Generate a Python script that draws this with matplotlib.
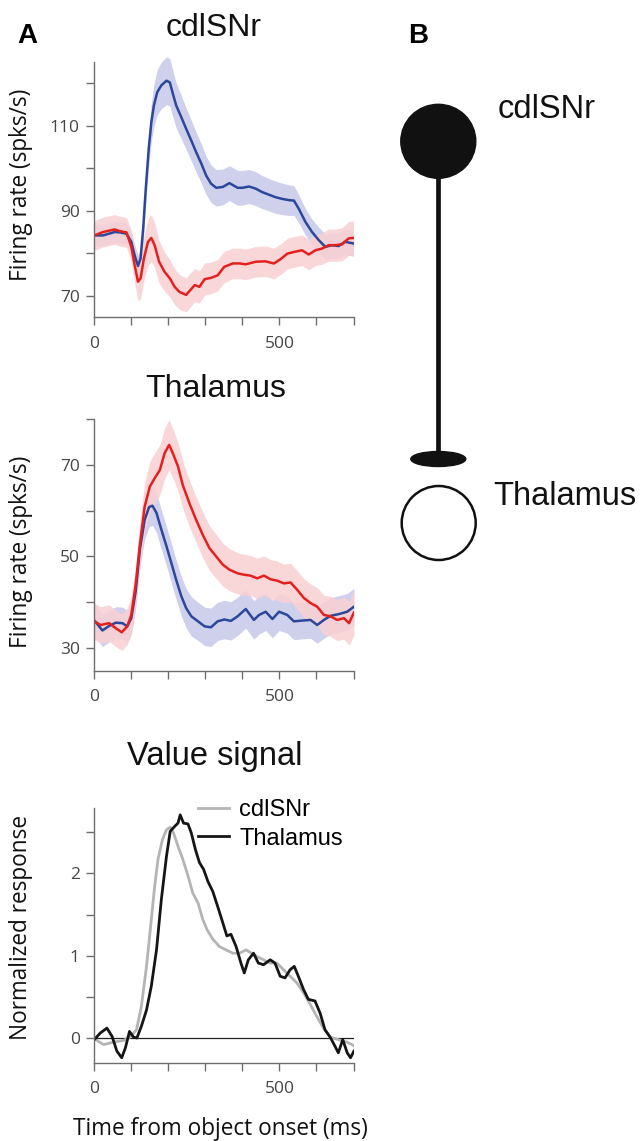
import matplotlib
matplotlib.use("Agg")
import matplotlib.pyplot as plt
from matplotlib.patches import Ellipse
import numpy as np

# ---------------- data ----------------
# Panel A top: cdlSNr firing rate (spks/s)
snr_blue_t = [0,24,55,69,87,100,109,118,125,132,139,147,154,161,170,181,195,204,211,221,235,248,262,275,289,302,315,329,347,365,387,
              400,418,436,453,471,489,507,525,539,552,570,588,606,624,642,660,677,700]
snr_blue = [84.2,84.2,85.0,84.9,84.6,82.7,79.5,77.0,78.8,85.8,95.2,104.6,110.8,114.8,117.9,119.5,120.6,120.2,117.9,114.8,112.0,109.3,106.5,103.8,101.1,98.3,96.4,95.4,95.6,96.5,95.4,
            95.4,95.7,95.2,94.4,93.8,93.2,92.8,92.5,92.4,90.5,87.4,85.0,83.1,81.5,81.9,81.7,82.7,82.3]
snr_blue_sem = [2.5,2.5,2.5,2.5,2.5,2.5,2.5,2.5,2.5,3,3.5,4,4.5,5,5.3,5.5,5.6,5.6,5.5,5.3,5.1,4.9,4.8,4.7,4.6,4.5,4.4,4.3,4.2,4.1,4.1,
                4.1,4.0,4.0,3.9,3.8,3.8,3.7,3.6,3.5,3.3,3.1,3.0,3.0,3.0,3.0,3.0,3.0,3.0]

snr_red_t = [0,24,55,69,87,100,109,118,125,134,145,154,163,175,190,204,217,230,248,259,271,284,298,315,333,351,374,392,
             409,436,462,485,503,521,539,561,579,597,615,633,651,669,687,700]
snr_red = [84.2,85.0,85.6,85.2,84.9,81.5,77.2,73.3,74.1,78.8,82.7,83.6,81.9,78.0,75.6,74.1,72.1,70.9,70.2,71.3,72.5,72.1,73.9,74.2,74.8,76.8,77.6,77.6,
           77.4,78.0,78.1,77.6,78.6,79.9,80.3,80.7,79.7,80.7,81.1,81.9,81.9,82.1,83.5,83.6]
snr_red_sem = [3.5,3.5,3.5,3.5,3.5,3.8,4.2,4.5,4.8,5.2,5.5,5.5,5.3,5,4.6,4.4,4.2,4.1,4,4,3.9,3.8,3.8,3.7,3.7,3.7,3.6,3.6,
               3.6,3.6,3.6,3.6,3.6,3.6,3.6,3.6,3.6,3.6,3.7,3.8,3.8,3.9,4,4]

# Panel A middle: Thalamus firing rate (spks/s)
thal_red_t = [0,17,40,58,74,89,100,112,123,136,150,163,177,190,202,212,226,239,257,275,293,311,329,347,365,387,
              404,422,440,458,476,494,512,530,548,566,584,602,620,638,656,674,688,701]
thal_red = [35.8,35.0,35.4,34.3,33.4,34.7,37.2,44.0,52.5,60.9,65.3,67.1,68.9,72.6,74.4,72.6,69.7,65.6,61.6,58.0,54.7,51.8,50.0,48.2,47.1,46.3,
            46.0,45.8,45.2,45.8,45.0,44.7,44.1,44.3,42.7,40.9,39.8,39.0,37.2,36.9,36.1,36.5,35.4,37.7]
thal_red_sem = [4,4,4,4,4,4,4.2,4.5,5,5.3,5.5,5.5,5.5,5.5,5.5,5.4,5.3,5.2,5.1,5,5,4.9,4.8,4.7,4.6,4.5,
                4.5,4.4,4.4,4.3,4.3,4.3,4.2,4.2,4.2,4.2,4.2,4.2,4.3,4.4,4.5,4.6,4.8,5]

thal_blue_t = [0,22,40,58,76,89,100,112,123,136,148,157,168,181,195,208,221,235,248,262,280,298,315,333,351,369,387,
               409,431,445,463,481,499,521,539,566,584,602,620,638,661,683,701]
thal_blue = [36.0,33.8,34.8,35.5,35.4,34.7,36.5,42.5,51.5,58.0,60.8,61.1,59.5,55.9,52.2,48.6,44.9,41.3,38.7,36.9,35.8,34.7,34.5,35.8,36.2,35.9,36.9,
             38.5,36.1,37.2,37.9,36.3,37.9,37.2,35.8,36.0,36.1,35.0,36.1,37.0,37.4,37.9,39.0]
thal_blue_sem = [3.5,3.5,3.5,3.5,3.5,3.5,3.6,3.8,4.0,4.2,4.3,4.3,4.3,4.3,4.3,4.3,4.3,4.3,4.3,4.3,4.2,4.2,4.2,4.2,4.2,4.2,4.2,
                 4.2,4.2,4.2,4.1,4.1,4.1,4.0,4.0,4.0,4.0,4.0,4.0,4.0,4.0,4.0,4.0]

# Panel A bottom: value signal (normalized response)
val_snr_t = [0,25,52,79,96,114,127,141,154,163,172,184,195,205,214,226,239,253,266,280,293,304,320,338,356,374,392,410,
             439,457,475,493,511,529,547,565,583,601,619,637,659,682,700]
val_snr = [-0.01,-0.08,-0.05,-0.03,0.01,0.10,0.38,0.87,1.44,1.84,2.17,2.41,2.53,2.56,2.49,2.33,2.17,1.97,1.76,1.64,1.44,1.32,1.20,1.11,1.07,1.03,1.03,1.07,
           0.99,0.95,0.91,0.91,0.83,0.75,0.67,0.55,0.41,0.26,0.12,0.01,-0.02,-0.05,-0.09]

val_thal_t = [0,16,34,48,61,74,84,95,106,115,127,141,154,168,181,195,205,217,226,232,241,253,262,273,284,295,307,320,333,347,
              358,369,383,396,405,416,430,443,457,475,488,502,515,529,540,551,565,578,596,610,623,637,650,659,671,683,692,701]
val_thal = [-0.02,0.06,0.12,0.02,-0.16,-0.24,-0.12,0.08,0.01,0.0,0.14,0.34,0.63,1.07,1.68,2.21,2.51,2.57,2.61,2.71,2.61,2.60,2.49,2.29,2.13,2.05,1.90,1.78,1.60,1.40,
            1.24,1.26,1.11,0.91,0.79,0.95,1.03,0.91,0.89,0.95,0.91,0.75,0.73,0.83,0.87,0.75,0.59,0.47,0.45,0.30,0.10,0.01,-0.10,-0.18,-0.02,-0.18,-0.24,-0.16]

titles = ["cdlSNr", "Thalamus", "Value signal"]
legend_labels = ["cdlSNr", "Thalamus"]
xticks = [0, 100, 200, 300, 400, 500, 600, 700]
xticklabels = ["0", "", "", "", "", "500", "", ""]

# ---------------- style ----------------
W, H = 643, 1141
DPI = 100
BLUE = "#2b479c"
RED = "#e4201f"
BLUE_BAND = "#cfd0ec"
RED_BAND = "#f9d0d2"
GRAY = "#b4b4b4"
BLACK = "#151515"
AXC = "#6e6e6e"
TICKC = "#454545"
TICKFONT = "Open Sans"
LABELFONT = "Open Sans"
TITLEFONT = "Liberation Sans"
LABELSIZE = 16.3

fig = plt.figure(figsize=(W / DPI, H / DPI), dpi=DPI)


def px_axes(left, top, right, bottom):
    return fig.add_axes([left / W, 1 - bottom / H, (right - left) / W, (bottom - top) / H])


def style(ax, ylim, yticks, ylabels):
    ax.set_xlim(0, 700)
    ax.set_ylim(*ylim)
    for s in ["top", "right"]:
        ax.spines[s].set_visible(False)
    for s in ["left", "bottom"]:
        ax.spines[s].set_color(AXC)
        ax.spines[s].set_linewidth(1.0)
    ax.set_xticks(xticks)
    ax.set_xticklabels(xticklabels)
    ax.set_yticks(yticks)
    ax.set_yticklabels(ylabels)
    ax.tick_params(axis="both", direction="out", length=5.5, width=1.0, color=AXC,
                   labelcolor=TICKC, labelsize=12.5)
    ax.tick_params(axis="x", pad=8)
    ax.tick_params(axis="y", pad=5)
    for lab in ax.get_xticklabels() + ax.get_yticklabels():
        lab.set_fontfamily(TICKFONT)


def band(ax, t, m, s, color, alpha=1.0):
    m = np.asarray(m)
    s = np.asarray(s)
    ax.fill_between(t, m - s, m + s, color=color, lw=0, alpha=alpha, clip_on=False)


# ---- top: cdlSNr ----
ax1 = px_axes(94.3, 62, 353.5, 317)
band(ax1, snr_blue_t, snr_blue, snr_blue_sem, BLUE_BAND)
band(ax1, snr_red_t, snr_red, snr_red_sem, RED_BAND, 0.85)
ax1.plot(snr_blue_t, snr_blue, color=BLUE, lw=1.8, solid_joinstyle="round")
ax1.plot(snr_red_t, snr_red, color=RED, lw=1.8, solid_joinstyle="round")
style(ax1, (65, 125), [70, 80, 90, 100, 110, 120], ["70", "", "90", "", "110", ""])
ax1.set_ylabel("Firing rate (spks/s)", fontsize=LABELSIZE, fontfamily=LABELFONT, color="#111111")
ax1.yaxis.set_label_coords(-0.236, 0.52)

# ---- middle: Thalamus ----
ax2 = px_axes(94.3, 419.3, 353.5, 670.7)
band(ax2, thal_blue_t, thal_blue, thal_blue_sem, BLUE_BAND)
band(ax2, thal_red_t, thal_red, thal_red_sem, RED_BAND, 0.85)
ax2.plot(thal_blue_t, thal_blue, color=BLUE, lw=1.8, solid_joinstyle="round")
ax2.plot(thal_red_t, thal_red, color=RED, lw=1.8, solid_joinstyle="round")
style(ax2, (25, 80), [30, 40, 50, 60, 70, 80], ["30", "", "50", "", "70", ""])
ax2.set_ylabel("Firing rate (spks/s)", fontsize=LABELSIZE, fontfamily=LABELFONT, color="#111111")
ax2.yaxis.set_label_coords(-0.236, 0.472)

# ---- bottom: Value signal ----
ax3 = px_axes(94.3, 808.3, 353.5, 1062.7)
ax3.axhline(0, color="#222222", lw=0.9)
ax3.plot(val_snr_t, val_snr, color=GRAY, lw=2.0, label=legend_labels[0], solid_joinstyle="round")
ax3.plot(val_thal_t, val_thal, color=BLACK, lw=2.0, label=legend_labels[1], solid_joinstyle="round")
style(ax3, (-0.3, 2.79), [0, 0.5, 1, 1.5, 2, 2.5], ["0", "", "1", "", "2", ""])
ax3.set_ylabel("Normalized response", fontsize=LABELSIZE, fontfamily=LABELFONT, color="#111111")
ax3.yaxis.set_label_coords(-0.236, 0.53)
ax3.set_xlabel("Time from object onset (ms)", fontsize=LABELSIZE, fontfamily=LABELFONT, color="#111111")
ax3.xaxis.set_label_coords(0.487, -0.215)
leg = ax3.legend(loc="upper left", bbox_to_anchor=(0.40, 1.036), frameon=False,
                 prop={"family": TITLEFONT, "size": 17}, handlelength=1.3,
                 handletextpad=0.45, labelspacing=0.28, borderpad=0, borderaxespad=0)

# ---- titles ----
fig.text(214 / W, 1 - 36 / H, titles[0], ha="center", va="baseline", fontsize=23, fontfamily=TITLEFONT, color="#111111")
fig.text(216 / W, 1 - 397 / H, titles[1], ha="center", va="baseline", fontsize=23, fontfamily=TITLEFONT, color="#111111")
fig.text(215 / W, 1 - 765 / H, titles[2], ha="center", va="baseline", fontsize=23.5, fontfamily=TITLEFONT, color="#111111")

# ---- panel letters ----
fig.text(17 / W, 1 - 43 / H, "A", ha="left", va="baseline", fontsize=20, fontweight="bold", fontfamily=TITLEFONT)
fig.text(408 / W, 1 - 43 / H, "B", ha="left", va="baseline", fontsize=20, fontweight="bold", fontfamily=TITLEFONT)

# ---- panel B schematic ----
axb = fig.add_axes([0, 0, 1, 1], zorder=-1)
axb.set_xlim(0, W)
axb.set_ylim(H, 0)
axb.axis("off")
axb.add_patch(Ellipse((438.3, 141.3), 75, 74, color="#111111"))
axb.plot([438.3, 438.3], [170, 455], color="#111111", lw=3.4, solid_capstyle="butt")
axb.add_patch(Ellipse((438.3, 459), 55, 15, color="#111111"))
axb.add_patch(Ellipse((438.7, 523), 74, 74, facecolor="white", edgecolor="#111111", lw=1.8))
axb.text(498, 118.3, "cdlSNr", ha="left", va="baseline", fontsize=23.5, fontfamily=TITLEFONT, color="#111111")
axb.text(493, 505, "Thalamus", ha="left", va="baseline", fontsize=23.5, fontfamily=TITLEFONT, color="#111111")

fig.savefig("out.png", dpi=DPI)
